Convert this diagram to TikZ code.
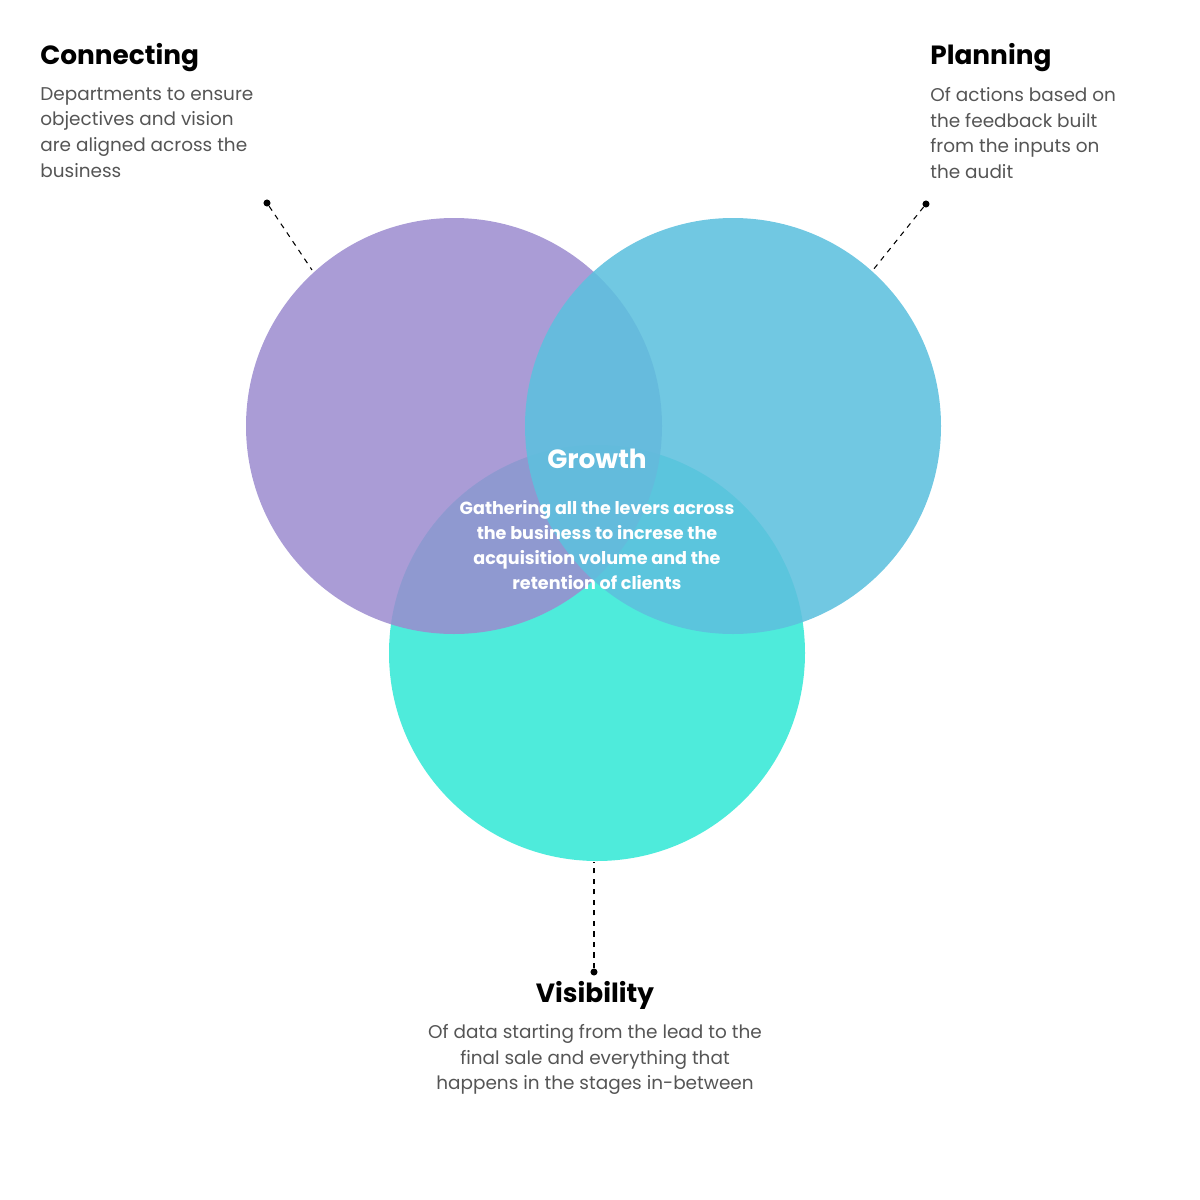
\documentclass[tikz,border=0pt]{standalone}
\usepackage{fontspec}
\setmainfont{Poppins}
\definecolor{violetc}{HTML}{9B8BCF}
\definecolor{skyc}{HTML}{5DC0DE}
\definecolor{tealc}{HTML}{4EEBDB}
\definecolor{bodyc}{HTML}{555555}
\tikzset{
  head/.style={font=\fontsize{15}{18}\selectfont\bfseries, inner sep=0pt},
  body/.style={font=\fontsize{10.5}{14.6}\selectfont, text=bodyc, inner sep=0pt},
  leader/.style={dashed, line width=0.6pt},
  dot/.style={circle, fill=black, inner sep=0pt, minimum size=4pt}
}
\begin{document}
\begin{tikzpicture}[x=0.02cm,y=-0.02cm]
		\useasboundingbox (0,0) rectangle (1200,1200);
		% circles
		\fill[tealc] (597,653) circle [radius=208];
		\fill[violetc, fill opacity=0.85] (454,426) circle [radius=208];
		\fill[skyc, fill opacity=0.88] (733,426) circle [radius=208];
		% centre text
		\node[font=\fontsize{15}{18}\selectfont\bfseries, text=white] (growth) at (597,459) {Growth};
		\node[font=\fontsize{10}{14.2}\selectfont\bfseries, text=white, align=center] (growthtxt) at (597,545) {Gathering all the levers across\\the business to increse the\\acquisition volume and the\\retention of clients};
		% labels
		\node[head, anchor=west] (conn) at (40,58) {Connecting};
		\node[body, anchor=north west, align=left] (conntxt) at (40,87) {Departments to ensure\\objectives and vision\\are aligned across the\\business};
		\node[head, anchor=west] (plan) at (930,58) {Planning};
		\node[body, anchor=north west, align=left] (plantxt) at (930,87) {Of actions based on\\the feedback built\\from the inputs on\\the audit};
		\node[head] (vis) at (595,995) {Visibility};
		\node[body, anchor=north, align=center] (vistxt) at (595,1024) {Of data starting from the lead to the\\final sale and everything that\\happens in the stages in-between};
		% leaders
		\node[dot] (d1) at (267,203) {};
		\node[dot] (d2) at (926,204) {};
		\node[dot] (d3) at (594,972) {};
		\coordinate (e1) at (312,270);
		\coordinate (e2) at (873,270);
		\coordinate (e3) at (594,862);
		\draw[leader] (d1) -- (e1);
		\draw[leader] (d2) -- (e2);
		\draw[leader] (d3) -- (e3);
\end{tikzpicture}
\end{document}
